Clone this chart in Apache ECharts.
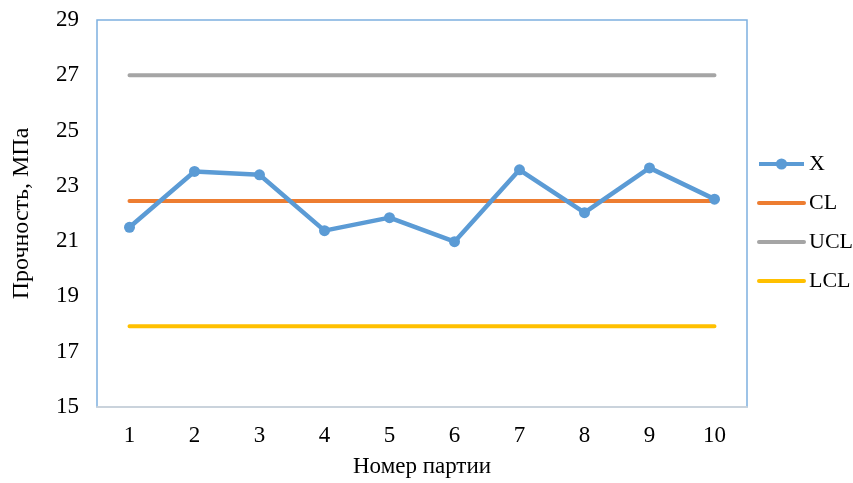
<!DOCTYPE html>
<html>
<head>
<meta charset="utf-8">
<script src="https://cdn.jsdelivr.net/npm/echarts@6/dist/echarts.min.js"></script>
<style>html,body{margin:0;padding:0;background:#fff}#c{width:853px;height:483px}</style>
</head>
<body>
<div id="c"></div>
<script>
var categories = ['1','2','3','4','5','6','7','8','9','10'];
var xValues = [21.5, 23.52, 23.4, 21.38, 21.85, 20.98, 23.58, 22.03, 23.65, 22.52];
var clValues = [22.45, 22.45, 22.45, 22.45, 22.45, 22.45, 22.45, 22.45, 22.45, 22.45];
var uclValues = [27.0, 27.0, 27.0, 27.0, 27.0, 27.0, 27.0, 27.0, 27.0, 27.0];
var lclValues = [17.92, 17.92, 17.92, 17.92, 17.92, 17.92, 17.92, 17.92, 17.92, 17.92];
var yTicks = { min: 15, max: 29, interval: 2 };

var font = '"Liberation Serif", "Times New Roman", serif';
var chart = echarts.init(document.getElementById('c'), null, { renderer: 'canvas' });
chart.setOption({
  animation: false,
  backgroundColor: '#fff',
  grid: { left: 97, right: 106, top: 20, bottom: 74, show: true, borderColor: '#7EB0E0', borderWidth: 1.5, backgroundColor: 'transparent' },
  legend: {
    orient: 'vertical', left: 752, top: 148,
    itemWidth: 45, itemHeight: 14, itemGap: 17,
    textStyle: { fontFamily: font, fontSize: 22, color: '#000' },
    lineStyle: { width: 4 },
    data: [
      { name: 'X' },
      { name: 'CL', itemStyle: { opacity: 0 } },
      { name: 'UCL', itemStyle: { opacity: 0 } },
      { name: 'LCL', itemStyle: { opacity: 0 } }
    ]
  },
  xAxis: {
    type: 'category', data: categories, boundaryGap: true,
    name: 'Номер партии', nameLocation: 'middle', nameGap: 48,
    nameTextStyle: { fontFamily: font, fontSize: 23, color: '#000' },
    axisLine: { lineStyle: { color: '#D9D9D9', width: 1.5 } },
    axisTick: { show: false },
    axisLabel: { fontFamily: font, fontSize: 23, color: '#000', margin: 17 }
  },
  yAxis: {
    type: 'value', min: yTicks.min, max: yTicks.max, interval: yTicks.interval,
    name: 'Прочность, МПа', nameLocation: 'middle', nameGap: 63, nameRotate: 90,
    nameTextStyle: { fontFamily: font, fontSize: 24, color: '#000' },
    axisLine: { show: false }, axisTick: { show: false },
    splitLine: { show: false },
    axisLabel: { fontFamily: font, fontSize: 23, color: '#000', margin: 18 }
  },
  series: [
    { name: 'X', type: 'line', data: xValues, color: '#5B9BD5', symbol: 'circle', symbolSize: 11,
      lineStyle: { width: 4.5, color: '#5B9BD5' }, itemStyle: { color: '#5B9BD5' }, z: 5 },
    { name: 'CL', type: 'line', data: clValues, color: '#ED7D31', symbol: 'none',
      lineStyle: { width: 4, color: '#ED7D31', cap: 'round' } },
    { name: 'UCL', type: 'line', data: uclValues, color: '#A5A5A5', symbol: 'none',
      lineStyle: { width: 4, color: '#A5A5A5', cap: 'round' } },
    { name: 'LCL', type: 'line', data: lclValues, color: '#FFC000', symbol: 'none',
      lineStyle: { width: 4, color: '#FFC000', cap: 'round' } }
  ]
});
</script>
</body>
</html>
